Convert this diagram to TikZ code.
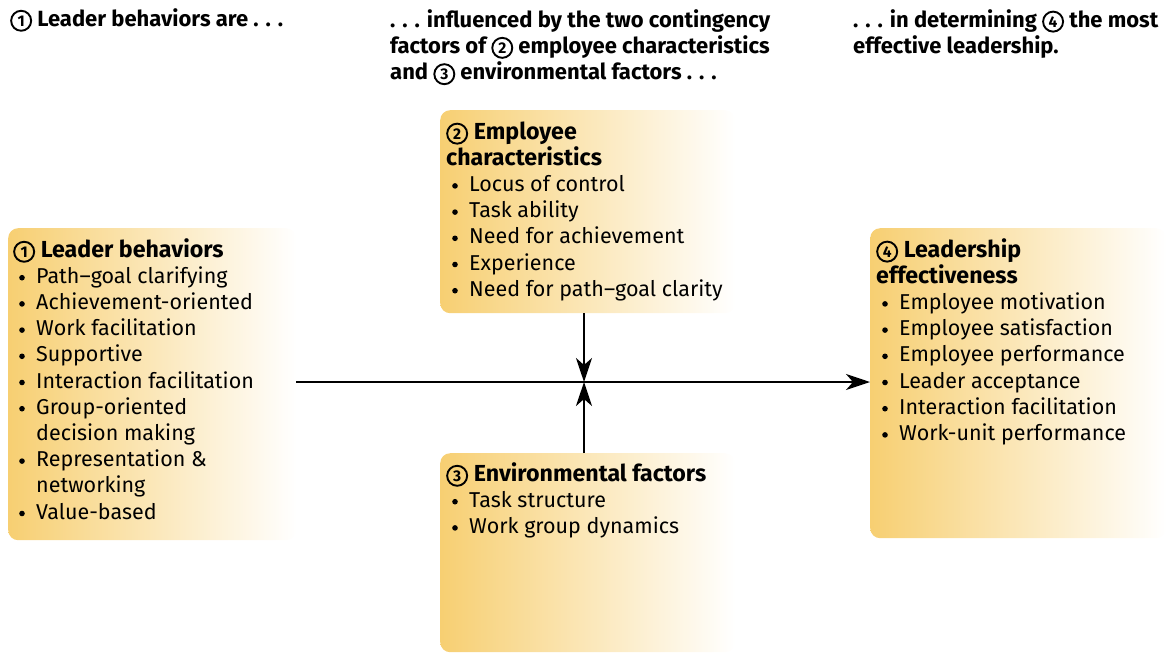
\documentclass[tikz,border=0pt]{standalone}
\usepackage{fontspec}
\setmainfont{Fira Sans}
\usetikzlibrary{arrows.meta}
\definecolor{boxy}{RGB}{247,207,114}
\newcommand\cnum[1]{\tikz[baseline=(cn.base)]\node[draw, circle, line width=1.9pt, inner sep=0pt, minimum size=20pt, font=\bfseries\fontsize{15.5}{15.5}\selectfont](cn){#1};}
\newcommand\bdot{\tikz[baseline=-5.5pt]\fill (0,0) circle (2.8pt);}
\newcommand\itm[1]{\hspace*{6pt}\makebox[17pt][l]{\bdot}#1}
\newcommand\cnt[1]{\hspace*{23pt}#1}
\newcommand\hd[1]{{\bfseries\fontsize{23.2}{26.2}\selectfont #1}}
\tikzset{
  panel/.style={draw=none, rounded corners=10pt, left color=boxy, right color=white, anchor=north west, inner sep=0pt},
  body/.style={anchor=base west, align=left, inner sep=0pt, font=\fontsize{21.5}{26.2}\selectfont},
  toptext/.style={anchor=base west, align=left, inner sep=0pt, font=\bfseries\fontsize{22}{26.2}\selectfont},
  conn/.style={line width=2pt, -{Stealth[length=24pt, width=16pt, inset=7pt]}}
}
\begin{document}
\begin{tikzpicture}[x=1pt, y=-1pt]
\useasboundingbox (0,0) rectangle (1166,656);
% panels
\node[panel, minimum width=288pt, minimum height=312pt] (lb) at (8,228) {};
\node[panel, minimum width=295pt, minimum height=203pt] (eb) at (440,110) {};
\node[panel, minimum width=295pt, minimum height=199pt] (fb) at (440,453) {};
\node[panel, minimum width=296pt, minimum height=310pt] (rb) at (870,228) {};
% top texts (base = last line)
\node[toptext] (t1) at (10,26) {\cnum{1} Leader behaviors are . . .};
\node[toptext] (t2) at (390,79.4) {. . . influenced by the two contingency\\factors of \cnum{2} employee characteristics\\and \cnum{3} environmental factors . . .};
\node[toptext] (t3) at (853,53.2) {. . . in determining \cnum{4} the most\\effective leadership.};
% box texts (base = last line)
\node[body] (lbt) at (13,519) {\cnum{1} \hd{Leader behaviors}\\
\itm{Path–goal clarifying}\\
\itm{Achievement-oriented}\\
\itm{Work facilitation}\\
\itm{Supportive}\\
\itm{Interaction facilitation}\\
\itm{Group-oriented}\\
\cnt{decision making}\\
\itm{Representation \&}\\
\cnt{networking}\\
\itm{Value-based}};
\node[body] (ebt) at (446,296.2) {\cnum{2} \hd{Employee}\\
\hd{characteristics}\\
\itm{Locus of control}\\
\itm{Task ability}\\
\itm{Need for achievement}\\
\itm{Experience}\\
\itm{Need for path–goal clarity}};
\node[body] (fbt) at (446,533.4) {\cnum{3} \hd{Environmental factors}\\
\itm{Task structure}\\
\itm{Work group dynamics}};
\node[body] (rbt) at (876,440.4) {\cnum{4} \hd{Leadership}\\
\hd{effectiveness}\\
\itm{Employee motivation}\\
\itm{Employee satisfaction}\\
\itm{Employee performance}\\
\itm{Leader acceptance}\\
\itm{Interaction facilitation}\\
\itm{Work-unit performance}};
% connectors
\coordinate (j) at (584,382);
\draw[conn] (lb.east |- j) -- (rb.west |- j);
\draw[conn] (j |- eb.south) -- (j);
\draw[conn] (j |- fb.north) -- (j);
\end{tikzpicture}
\end{document}
